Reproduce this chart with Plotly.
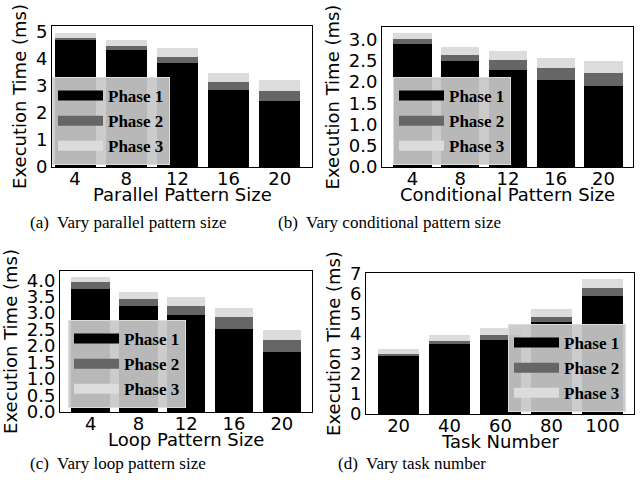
import plotly.graph_objects as go

W, H = 643, 485

categories_a = ["4", "8", "12", "16", "20"]
a_phase1 = [4.69, 4.32, 3.85, 2.85, 2.44]
a_phase2 = [0.08, 0.15, 0.22, 0.29, 0.37]
a_phase3 = [0.17, 0.22, 0.33, 0.34, 0.40]

categories_b = ["4", "8", "12", "16", "20"]
b_phase1 = [2.91, 2.51, 2.29, 2.06, 1.92]
b_phase2 = [0.11, 0.14, 0.24, 0.28, 0.30]
b_phase3 = [0.15, 0.19, 0.21, 0.24, 0.29]

categories_c = ["4", "8", "12", "16", "20"]
c_phase1 = [3.73, 3.21, 2.94, 2.51, 1.81]
c_phase2 = [0.21, 0.21, 0.27, 0.37, 0.37]
c_phase3 = [0.15, 0.22, 0.27, 0.27, 0.30]

categories_d = ["20", "40", "60", "80", "100"]
d_phase1 = [2.89, 3.48, 3.68, 4.58, 5.87]
d_phase2 = [0.11, 0.15, 0.25, 0.25, 0.40]
d_phase3 = [0.23, 0.30, 0.35, 0.39, 0.45]

phase_names = ["Phase 1", "Phase 2", "Phase 3"]
phase_colors = ["#000000", "#666666", "#dcdcdc"]

x_titles = ["Parallel Pattern Size", "Conditional Pattern Size",
            "Loop Pattern Size", "Task Number"]
y_title = "Execution Time (ms)"
captions = ["(a)\u00a0 Vary parallel pattern size",
            "(b)\u00a0 Vary conditional pattern size",
            "(c)\u00a0 Vary loop pattern size",
            "(d)\u00a0 Vary task number"]

panels = [
    (categories_a, [a_phase1, a_phase2, a_phase3]),
    (categories_b, [b_phase1, b_phase2, b_phase3]),
    (categories_c, [c_phase1, c_phase2, c_phase3]),
    (categories_d, [d_phase1, d_phase2, d_phase3]),
]

# pixel boxes (left, right, top, bottom)
boxes = [(52, 312, 26, 167), (382, 633, 27, 167),
         (60, 312, 271, 412), (366, 634, 273, 414)]
xranges = [[-0.45, 4.63], [-0.64, 4.62], [-0.64, 4.63], [-0.64, 4.62]]
yranges = [[0, 5.2], [0, 3.3], [0, 4.28], [0, 7.03]]
ydticks = [1, 0.5, 0.5, 1]
yformats = ["d", ".1f", ".1f", "d"]
legend_pos = [(52, 77), (393, 77), (68, 320), (508, 324)]
caption_pos = [(128, 223), (390, 223), (118, 463), (412, 463)]

fig = go.Figure()
tick_font = dict(family="DejaVu Sans", size=18, color="black")

for i, (cats, series) in enumerate(panels):
    n = "" if i == 0 else str(i + 1)
    xa, ya = "x" + n, "y" + n
    leg = "legend" + n
    for k, vals in enumerate(series):
        fig.add_trace(go.Bar(x=cats, y=vals, name=phase_names[k],
                             marker=dict(color=phase_colors[k], line=dict(width=0)),
                             xaxis=xa, yaxis=ya, showlegend=False))
    for k in range(3):
        fig.add_trace(go.Scatter(x=[None], y=[None], mode="lines",
                                 name="<b>" + phase_names[k] + "</b>",
                                 line=dict(color=phase_colors[k], width=13),
                                 xaxis=xa, yaxis=ya, legend=leg,
                                 showlegend=True))
    l, r, t, b = boxes[i]
    fig.layout["xaxis" + n] = dict(
        domain=[l / W, r / W], anchor=ya, type="category", automargin=False,
        range=xranges[i], showline=True, linecolor="black", linewidth=1,
        mirror=True, ticks="", ticklabelstandoff=-5,
        tickfont=tick_font, showgrid=False, zeroline=False,
    )
    fig.layout["yaxis" + n] = dict(
        domain=[1 - b / H, 1 - t / H], anchor=xa, automargin=False,
        range=yranges[i], tickmode="linear", tick0=0, dtick=ydticks[i],
        tickformat=yformats[i],
        showline=True, linecolor="black", linewidth=1, mirror=True,
        ticks="", tickfont=tick_font, showgrid=False, zeroline=False,
        title=dict(text=y_title, font=tick_font, standoff=4),
    )
    # x-axis title placed just under the tick labels
    fig.add_annotation(text=x_titles[i], xref=xa + " domain", yref=ya + " domain",
                       x=0.5, y=0, yshift=-27, showarrow=False,
                       xanchor="center", yanchor="middle", font=tick_font)
    lx, ly = legend_pos[i]
    fig.layout[leg] = dict(
        x=lx / W, y=1 - ly / H, xanchor="left", yanchor="top",
        traceorder="normal",
        bgcolor="rgba(200,200,200,0.92)", bordercolor="rgba(220,220,220,1)",
        borderwidth=1, itemwidth=45, tracegroupgap=0,
        font=dict(family="Liberation Serif", size=17, color="black"),
    )
    cx, cy = caption_pos[i]
    fig.add_annotation(text=captions[i], x=cx / W, y=1 - cy / H,
                       xref="paper", yref="paper", showarrow=False,
                       xanchor="center", yanchor="middle",
                       font=dict(family="Liberation Serif", size=17, color="black"))

fig.update_layout(
    width=W, height=H, margin=dict(l=0, r=0, t=0, b=0, autoexpand=False),
    barmode="stack", bargap=0.2,
    paper_bgcolor="white", plot_bgcolor="white",
)

fig.write_html("out.html", config={"displayModeBar": False},
               post_script="document.body.style.margin='0px';document.body.style.padding='0px';")
